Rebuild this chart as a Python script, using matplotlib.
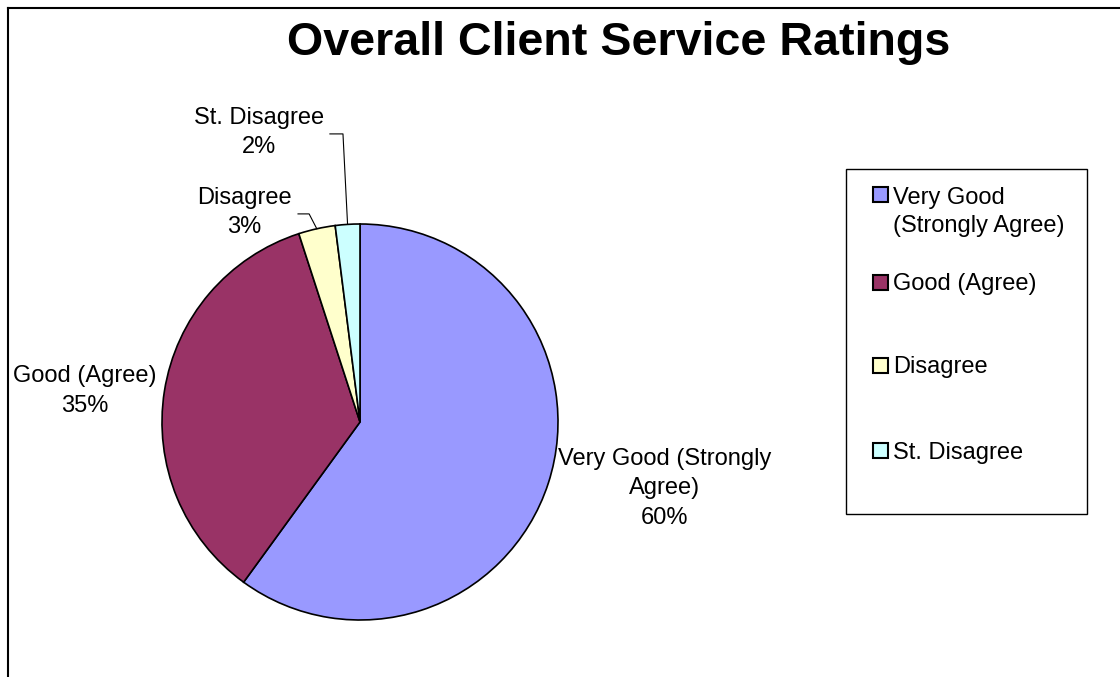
import numpy as np
import matplotlib.pyplot as plt
from matplotlib.patches import Rectangle
from matplotlib.lines import Line2D

plt.rcParams['font.family'] = ['Liberation Sans', 'DejaVu Sans']

# Data
categories = ['Very Good (Strongly Agree)', 'Good (Agree)', 'Disagree', 'St. Disagree']
legend_labels = ['Very Good\n(Strongly Agree)', 'Good (Agree)', 'Disagree', 'St. Disagree']
slice_labels = ['Very Good (Strongly\nAgree)', 'Good (Agree)', 'Disagree', 'St. Disagree']
values = [60, 35, 3, 2]
colors = ['#9999FF', '#993366', '#FFFFCC', '#CCFFFF']

W, H = 1120, 677
fig = plt.figure(figsize=(W / 100, H / 100), dpi=100)

# chart area border (only top and left edges are inside the picture)
fig.add_artist(Line2D([8 / W, 8 / W], [0, 1 - 8 / H], color='black', lw=1.5))
fig.add_artist(Line2D([8 / W, 1], [1 - 8 / H, 1 - 8 / H], color='black', lw=1.5))

fig.text(619 / W, 1 - 55 / H, 'Overall Client Service Ratings', ha='center', va='baseline',
         fontsize=33.6, fontweight='bold')

# pie axes: center (360, 422), radius 198 px
cx, cy, r = 360, 422, 198
ax = fig.add_axes([(cx - r) / W, (H - cy - r) / H, 2 * r / W, 2 * r / H])
wedges, _ = ax.pie(values, colors=colors, startangle=90, counterclock=False,
                   wedgeprops=dict(edgecolor='black', linewidth=1.2))
ax.set_xlim(-1, 1)
ax.set_ylim(-1, 1)
ax.axis('off')

# label block centers in pie radius units
label_pos = [(1.540, -0.335), (-1.389, 0.158), (-0.583, 1.058), (-0.510, 1.462)]
total = sum(values)
for lab, v, (lx, ly) in zip(slice_labels, values, label_pos):
    ax.text(lx, ly, f'{lab}\n{round(100 * v / total)}%', ha='center', va='center',
            fontsize=17, linespacing=1.45, clip_on=False)

# leader lines for the two small slices: (start x, start y, elbow length)
leaders = {2: (-0.313, 1.051, 0.056), 3: (-0.152, 1.455, 0.066)}
for i, (sx, sy, el) in leaders.items():
    w = wedges[i]
    mid = np.deg2rad((w.theta1 + w.theta2) / 2)
    ax.plot([sx, sx + el, np.cos(mid)], [sy, sy, np.sin(mid)],
            color='black', lw=0.8, clip_on=False)

# legend: frame, swatches and labels
fig.add_artist(Rectangle((846 / W, 1 - 514 / H), 241 / W, 345 / H, transform=fig.transFigure,
                         facecolor='white', edgecolor='black', lw=1))
entry_y = [195, 282, 365, 450]
for c, lab, y in zip(colors, legend_labels, entry_y):
    fig.add_artist(Rectangle((872.5 / W, 1 - (y + 7.5) / H), 15 / W, 15 / H,
                             transform=fig.transFigure, facecolor=c, edgecolor='black', lw=1.5))
    fig.text(893 / W, 1 - (y - 8.5) / H, lab, ha='left', va='top', fontsize=17, linespacing=1.4)

fig.savefig('out.png', dpi=100)
